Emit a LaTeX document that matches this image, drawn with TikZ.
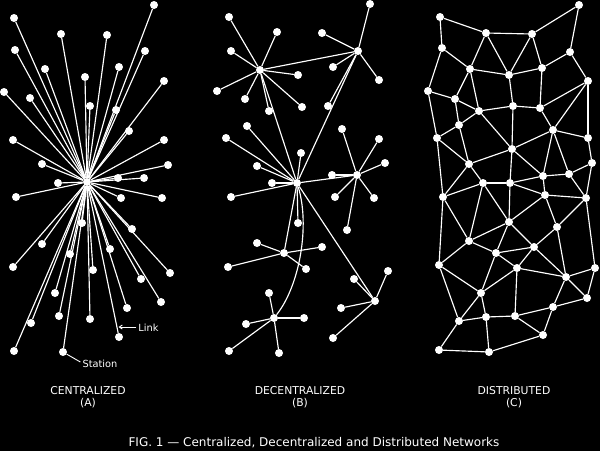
\documentclass[tikz,border=0pt]{standalone}
\usepackage{fontspec}
\setmainfont{DejaVu Sans}
\usepackage{tikz}
\usetikzlibrary{arrows.meta}

\tikzset{
  station/.style={circle, fill=white, inner sep=0pt, minimum size=8pt},
  link/.style={white, line width=1.15pt},
  caption/.style={text=white, font=\fontsize{10.8}{12.5}\selectfont, align=center, inner sep=0pt},
  tag/.style={text=white, font=\fontsize{9.8}{11}\selectfont, inner sep=0pt}
}

\begin{document}
\begin{tikzpicture}[x=1pt, y=-1pt]

\fill[black] (0,0) rectangle (600,451);
\useasboundingbox (0,0) rectangle (600,451);

% centralized
\node[station] (ca) at (87,182) {};
\foreach \i/\x/\y in {1/154/5, 2/14/18, 3/61/34, 4/107/35, 5/15/50, 6/145/51,
  7/45/69, 8/119/67, 9/85/77, 10/164/81, 11/4/92, 12/30/98, 13/90/106,
  14/116/110, 15/129/131, 16/13/140, 17/164/140, 18/42/164, 19/168/165,
  20/58/183, 21/118/178, 22/144/178, 23/16/197, 24/121/198, 25/162/198,
  26/82/223, 27/132/229, 28/42/244, 29/70/254, 30/110/249, 31/13/267,
  32/93/270, 33/170/273, 34/141/279, 35/55/293, 36/161/302, 37/127/308,
  38/59/316, 39/90/319, 40/31/323, 41/119/337, 42/14/351, 43/63/352}
{
  \node[station] (a\i) at (\x,\y) {};
  \draw[link] (ca) -- (a\i);
}
\node[tag] (link) at (148.5,328) {Link};
\coordinate (linkpt) at (118.5,327);
\draw[white, line width=0.9pt, -{Straight Barb[length=3pt, width=4pt]}] (link.west) ++(-2,-1) coordinate (linkfrom) (linkfrom) -- (linkpt);
\node[tag] (station) at (100,364) {Station};
\draw[white, line width=0.9pt] (station.west) ++(-2,-2) coordinate (stfrom) (stfrom) -- (a43);

% decentralized
\foreach \n/\x/\y in {ba/260/70, bb/358/51, bc/297/183, bd/357/175,
  be/284/253, bf/274/318, bg/375/301}
  \node[station] (\n) at (\x,\y) {};
\draw[link] (ba) -- (bb);
\draw[link] (ba) -- (bc);
\draw[link] (bb) -- (bc);
\draw[link] (bc) -- (bd);
\draw[link] (bc) -- (be);
\draw[link] (bc) -- (bg);
\draw[link] (bc) .. controls (310,225) and (300,285) .. (bf);
\foreach \i/\x/\y in {1/229/17, 2/277/32, 3/231/51, 4/298/75, 5/217/91,
  6/245/99, 7/269/111, 8/302/107}
  { \node[station] (ba\i) at (\x,\y) {}; \draw[link] (ba) -- (ba\i); }
\foreach \i/\x/\y in {1/370/4, 2/322/33, 3/333/67, 4/379/80, 5/328/106}
  { \node[station] (bb\i) at (\x,\y) {}; \draw[link] (bb) -- (bb\i); }
\foreach \i/\x/\y in {1/247/126, 2/226/138, 3/301/153, 4/257/166,
  5/272/183, 6/231/197, 7/298/223}
  { \node[station] (bc\i) at (\x,\y) {}; \draw[link] (bc) -- (bc\i); }
\foreach \i/\x/\y in {1/342/129, 2/379/139, 3/385/163, 4/332/175,
  5/335/197, 6/374/198, 7/347/230}
  { \node[station] (bd\i) at (\x,\y) {}; \draw[link] (bd) -- (bd\i); }
\foreach \i/\x/\y in {1/257/243, 2/322/247, 3/228/267, 4/306/269}
  { \node[station] (be\i) at (\x,\y) {}; \draw[link] (be) -- (be\i); }
\foreach \i/\x/\y in {1/269/293, 2/246/324, 3/304/318, 4/229/351, 5/279/353}
  { \node[station] (bf\i) at (\x,\y) {}; \draw[link] (bf) -- (bf\i); }
\foreach \i/\x/\y in {1/388/271, 2/354/279, 3/341/308, 4/333/338}
  { \node[station] (bg\i) at (\x,\y) {}; \draw[link] (bg) -- (bg\i); }

% distributed
\foreach \i/\x/\y in {1/440/17, 2/579/5, 3/486/33, 4/532/34, 5/442/48,
  6/570/52, 7/470/69, 8/509/75, 9/542/68, 10/588/81, 11/428/91,
  12/455/99, 13/479/111, 14/513/106, 15/540/108, 16/459/125, 17/553/130,
  18/437/138, 19/588/138, 20/512/149, 21/469/164, 22/592/163, 23/543/176,
  24/569/174, 25/483/183, 26/510/183, 27/443/197, 28/545/195, 29/586/198,
  30/509/222, 31/557/227, 32/469/241, 33/534/247, 34/496/253, 35/439/265,
  36/517/268, 37/595/268, 38/566/277, 39/481/293, 40/587/298, 41/553/307,
  42/459/321, 43/486/317, 44/515/316, 45/543/335, 46/439/350, 47/489/352}
  \node[station] (c\i) at (\x,\y) {};
\foreach \p/\q in {1/3, 1/5, 3/4, 4/2, 2/6, 3/7, 3/8, 4/8, 4/9, 6/9, 6/10,
  5/7, 5/11, 7/8, 8/9, 7/12, 7/13, 9/15, 8/14, 10/15, 10/17, 10/19,
  11/12, 11/18, 12/13, 12/16, 13/16, 13/14, 14/15, 13/20, 14/20, 15/17,
  16/18, 16/21, 17/20, 17/19, 17/23, 17/24, 18/21, 20/21, 20/26, 20/23,
  21/25, 19/22, 22/24, 23/24, 25/26, 26/23, 18/27, 21/27, 23/28, 24/29,
  22/29, 28/29, 25/27, 26/28, 25/32, 25/30, 26/30, 28/30, 28/31, 29/31,
  29/37, 27/32, 27/35, 30/32, 30/33, 30/34, 31/33, 31/38, 32/34, 32/35,
  33/34, 33/36, 33/38, 34/36, 34/39, 35/39, 35/42, 36/38, 36/39, 36/44,
  37/38, 37/40, 38/40, 38/41, 39/42, 39/43, 40/41, 41/44, 41/45, 42/43,
  42/46, 43/44, 43/47, 44/45, 46/47, 47/45}
  \draw[link] (c\p) -- (c\q);

% captions
\node[caption] (capa) at (88,397) {CENTRALIZED\\(A)};
\node[caption] (capb) at (300,397) {DECENTRALIZED\\(B)};
\node[caption] (capc) at (514,397) {DISTRIBUTED\\(C)};
\node[caption, font=\fontsize{12}{14}\selectfont] (title) at (314,443) {FIG. 1 --- Centralized, Decentralized and Distributed Networks};

\end{tikzpicture}
\end{document}
